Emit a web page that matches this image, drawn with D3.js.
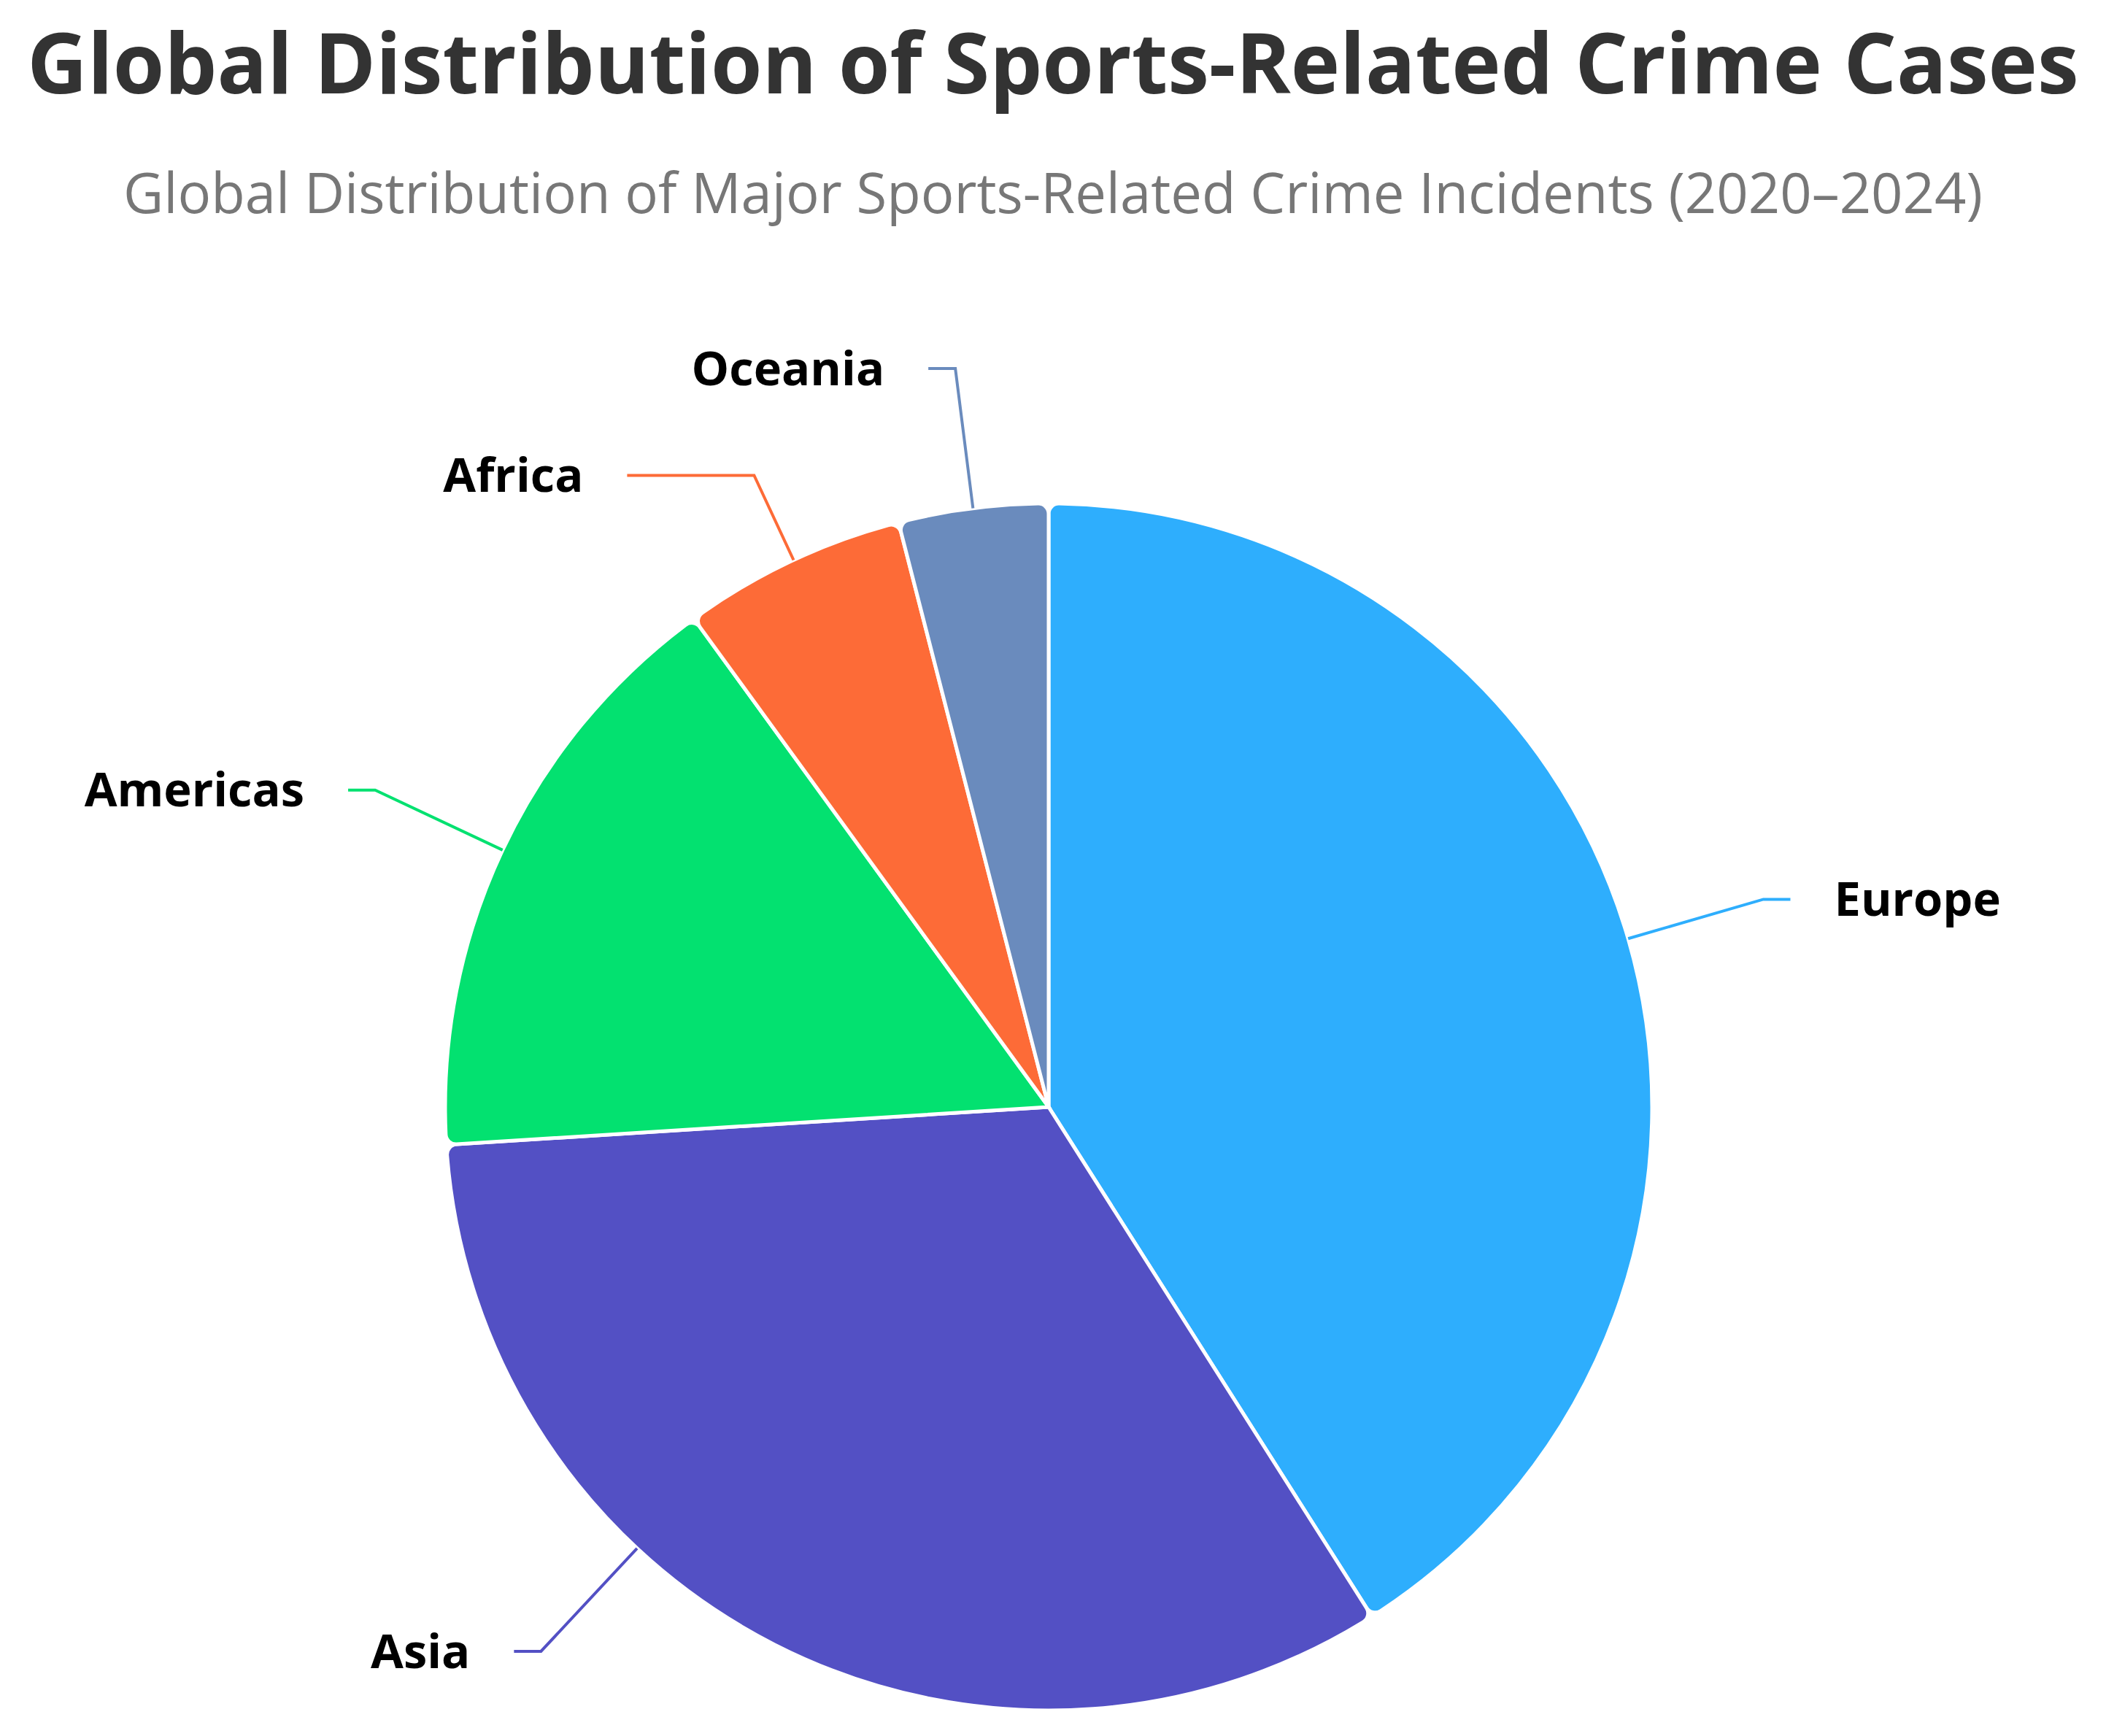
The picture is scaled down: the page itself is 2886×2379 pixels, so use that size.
<!DOCTYPE html>
<html>
<head>
<meta charset="utf-8">
<script src="https://cdn.jsdelivr.net/npm/d3@7/dist/d3.min.js"></script>
<style>
  body { margin: 0; background: #fff; }
  text { font-family: "Open Sans", "Noto Sans", sans-serif; }
</style>
</head>
<body>
<svg id="chart" width="2886" height="2379"></svg>
<script>
// regions and their share of incidents (percent)
var regions = ['Europe', 'Asia', 'Americas', 'Africa', 'Oceania'];
var cases = [41, 33, 16, 6, 4];
var colors = ['#2eaefd', '#5350c4', '#03e170', '#fd6b37', '#6a8bbd'];
// label layout tweaks: leader angle (deg, null = slice middle), elbow radius, tail length
var labelAngle = [null, 223, null, 335, null];
var elbowR = [1020, 1020, 1020, 955, 1020];
var tailLen = [37, 37, 37, 174, 37];

var svg = d3.select('#chart');
var W = 2886, cx = 1437, cy = 1517, R = 827;

svg.append('text')
  .attr('x', W / 2).attr('y', 128)
  .attr('text-anchor', 'middle')
  .attr('font-size', 114).attr('font-weight', 700)
  .attr('fill', '#333')
  .text('Global Distribution of Sports-Related Crime Cases');

svg.append('text')
  .attr('x', W / 2).attr('y', 292)
  .attr('text-anchor', 'middle')
  .attr('font-size', 76)
  .attr('fill', '#777')
  .text('Global Distribution of Major Sports-Related Crime Incidents (2020\u20132024)');

var data = regions.map(function (r, i) { return { name: r, value: cases[i], color: colors[i], i: i }; });

var pie = d3.pie().value(function (d) { return d.value; }).sort(null);
var arc = d3.arc().innerRadius(0).outerRadius(R).cornerRadius(14);
var arcs = pie(data);

var g = svg.append('g').attr('transform', 'translate(' + cx + ',' + cy + ')');

g.selectAll('path.slice')
  .data(arcs)
  .enter()
  .append('path')
  .attr('class', 'slice')
  .attr('d', arc)
  .attr('fill', function (d) { return d.data.color; })
  .attr('stroke', '#fff')
  .attr('stroke-width', 5);

// leader lines and labels
arcs.forEach(function (d) {
  var i = d.data.i;
  var a = labelAngle[i] != null ? labelAngle[i] * Math.PI / 180 : (d.startAngle + d.endAngle) / 2;
  var sx = Math.sin(a), sy = -Math.cos(a);
  var p0 = [sx * R, sy * R];
  var p1 = [sx * elbowR[i], sy * elbowR[i]];
  var dir = sx >= 0 ? 1 : -1;
  var p2 = [p1[0] + dir * tailLen[i], p1[1]];
  g.append('polyline')
    .attr('points', [p0, p1, p2].map(function (p) { return p.join(','); }).join(' '))
    .attr('fill', 'none')
    .attr('stroke', d.data.color)
    .attr('stroke-width', 4);
  g.append('text')
    .attr('x', p2[0] + dir * 60)
    .attr('y', p2[1])
    .attr('dy', '0.35em')
    .attr('text-anchor', dir > 0 ? 'start' : 'end')
    .attr('font-size', 65).attr('font-weight', 700)
    .attr('fill', '#000')
    .text(d.data.name);
});
</script>
</body>
</html>
